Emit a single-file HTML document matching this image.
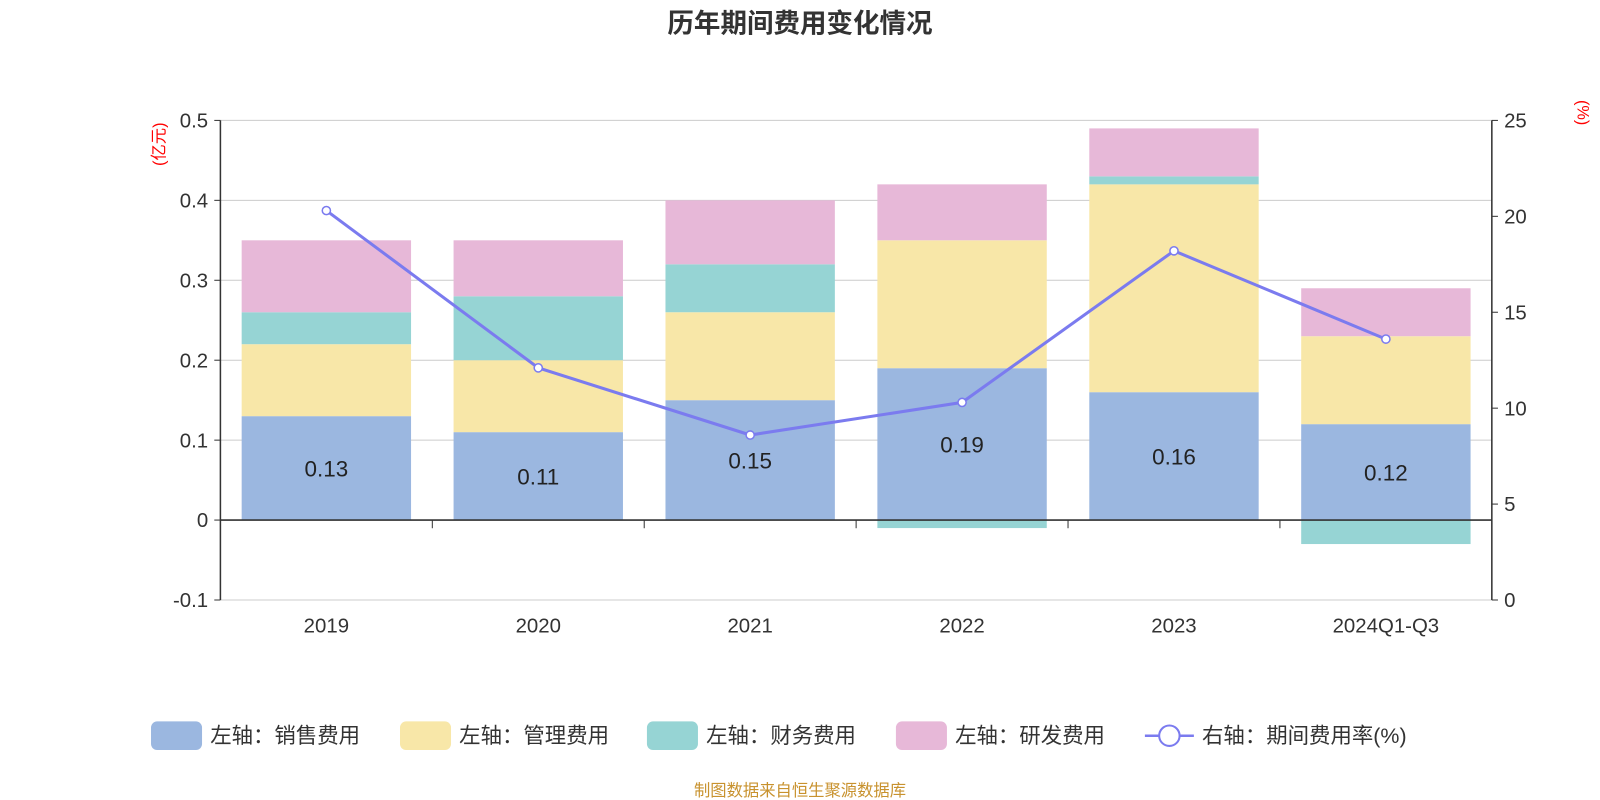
<!DOCTYPE html>
<html><head><meta charset="utf-8">
<style>
body{margin:0;background:#fff;font-family:"Liberation Sans","Noto Sans CJK SC",sans-serif;}
#wrap{position:relative;width:1600px;height:800px;}
svg{display:block;}
</style></head>
<body><div id="wrap">
<svg id="svg" width="1600" height="800" viewBox="0 0 1568 784" xmlns="http://www.w3.org/2000/svg" font-family="Liberation Sans, Noto Sans CJK SC, sans-serif"></svg>
</div>
<script>
const categories=["2019","2020","2021","2022","2023","2024Q1-Q3"];
const salesExp=[0.13,0.11,0.15,0.19,0.16,0.12];
const mgmtExp=[0.09,0.09,0.11,0.16,0.26,0.11];
const finExp=[0.04,0.08,0.06,-0.01,0.01,-0.03];
const rdExp=[0.09,0.07,0.08,0.07,0.06,0.06];
const rateVals=[20.3,12.1,8.6,10.3,18.2,13.6];
const leftTicks=[-0.1,0,0.1,0.2,0.3,0.4,0.5];
const rightTicks=[0,5,10,15,20,25];

const svg=document.getElementById('svg');
const NS="http://www.w3.org/2000/svg";
const X0=216,X1=1462,YT=118,YB=588;
const yL=v=>YB-(v+0.1)/0.6*(YB-YT);
const yR=v=>YB-v/25*(YB-YT);
const band=(X1-X0)/categories.length;
const xC=i=>X0+band*(i+0.5);
const BW=166;
function mk(tag,attrs,text){const e=document.createElementNS(NS,tag);for(const k in attrs)e.setAttribute(k,attrs[k]);if(text!==undefined)e.textContent=text;svg.appendChild(e);return e;}

let t=mk('text',{x:784,y:32,'text-anchor':'middle','font-size':26,'font-weight':'bold',fill:'#333'},'历年期间费用变化情况');



leftTicks.forEach(v=>{
  const y=yL(v);
  if(v!==0){const g=mk('line',{x1:X0,x2:X1,y1:y,y2:y,stroke:'#ccc','stroke-width':1});
  
  }
  const l=mk('text',{x:X0-12,y:y+7,'text-anchor':'end','font-size':20,fill:'#333'},String(v));
  
  
  mk('line',{x1:X0-6,x2:X0,y1:y,y2:y,stroke:'#333'});
});
rightTicks.forEach(v=>{
  const y=yR(v);
  const l=mk('text',{x:X1+12,y:y+7,'text-anchor':'start','font-size':20,fill:'#333'},String(v));
  
  
  mk('line',{x1:X1,x2:X1+6,y1:y,y2:y,stroke:'#333'});
});
t=mk('text',{x:0,y:0,'font-size':16,fill:'red',transform:'translate(161,120) rotate(-90)','text-anchor':'end'},'(亿元)');


t=mk('text',{x:0,y:0,'font-size':16,fill:'red',transform:'translate(1546,98) rotate(90)','text-anchor':'start'},'(%)');



const colors=['#9bb7e0','#f8e7a8','#96d4d4','#e7b8d8'];
const series=[salesExp,mgmtExp,finExp,rdExp];
const snames=['bar-sales','bar-mgmt','bar-finance','bar-rd'];
categories.forEach((c,i)=>{
  let pos=0,neg=0;
  series.forEach((s,k)=>{
    const v=s[i];let a,b;
    if(v>=0){a=pos;b=pos+v;pos=b;}else{a=neg;b=neg+v;neg=b;}
    const y1=yL(Math.max(a,b)),y2=yL(Math.min(a,b));
    const r=mk('rect',{x:xC(i)-BW/2,y:y1,width:BW,height:y2-y1,fill:colors[k]});
    
    
  });
  const lb=mk('text',{x:xC(i),y:(yL(0)+yL(salesExp[i]))/2+8,'text-anchor':'middle','font-size':22,fill:'#222'},salesExp[i].toFixed(2));
  
  
  const cl=mk('text',{x:xC(i),y:620,'text-anchor':'middle','font-size':20,fill:'#333'},c);
  
  
  if(i>0){mk('line',{x1:X0+band*i,x2:X0+band*i,y1:yL(0),y2:yL(0)+8,stroke:'#333'});}
});
mk('line',{x1:X0,x2:X1,y1:yL(0),y2:yL(0),stroke:'#333','stroke-width':1.5});
mk('line',{x1:X0,x2:X0,y1:YT,y2:YB,stroke:'#333','stroke-width':1.5});
mk('line',{x1:X1,x2:X1,y1:YT,y2:YB,stroke:'#333','stroke-width':1.5});

const pts=rateVals.map((v,i)=>xC(i)+','+yR(v)).join(' ');
const pl=mk('polyline',{points:pts,fill:'none',stroke:'#7b7bef','stroke-width':3});


rateVals.forEach((v,i)=>{
  const c=mk('circle',{cx:xC(i),cy:yR(v),r:4,fill:'#fff',stroke:'#7b7bef','stroke-width':1.5});
  
  
});

const leg=[['左轴：销售费用',148],['左轴：管理费用',392],['左轴：财务费用',634],['左轴：研发费用',878]];
leg.forEach((l,k)=>{
  const r=mk('rect',{x:l[1],y:707,width:50,height:28,rx:6,fill:colors[k]});
  
  
  const tx=mk('text',{x:l[1]+58,y:728,'font-size':21,fill:'#333'},l[0]);
  
  
});
mk('line',{x1:1122,x2:1170,y1:721,y2:721,stroke:'#7b7bef','stroke-width':2.5});
let lc=mk('circle',{cx:1146,cy:721,r:10,fill:'#fff',stroke:'#7b7bef','stroke-width':2});


t=mk('text',{x:1178,y:728,'font-size':21,fill:'#333'},'右轴：期间费用率(%)');



t=mk('text',{x:784,y:780,'text-anchor':'middle','font-size':16,fill:'#c8922e'},'制图数据来自恒生聚源数据库');


</script>
</body></html>
